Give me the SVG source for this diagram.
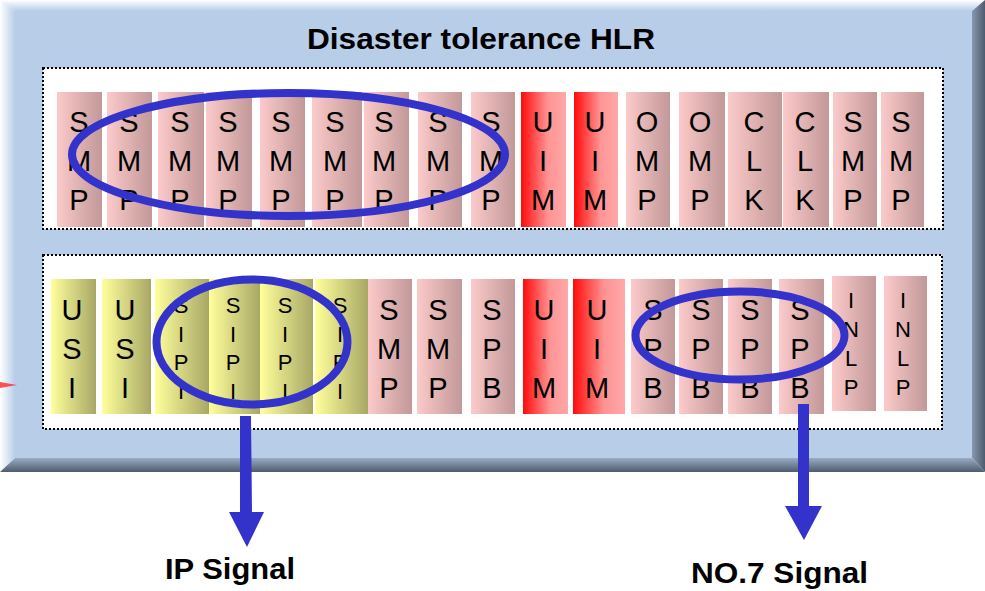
<svg xmlns="http://www.w3.org/2000/svg" width="985" height="591" viewBox="0 0 985 591">
<defs>
<linearGradient id="gPink" x1="0" y1="0" x2="1" y2="0"><stop offset="0" stop-color="#fccaca"/><stop offset="1" stop-color="#c29898"/></linearGradient>
<linearGradient id="gRed" x1="0" y1="0" x2="1" y2="0"><stop offset="0" stop-color="#ff0a0a"/><stop offset="0.6" stop-color="#ff9494"/><stop offset="1" stop-color="#ffa8a8"/></linearGradient>
<linearGradient id="gYel" x1="0" y1="0" x2="1" y2="0"><stop offset="0" stop-color="#ffff9c"/><stop offset="1" stop-color="#a8a866"/></linearGradient>
<linearGradient id="gLeft" x1="0" y1="0" x2="1" y2="0"><stop offset="0" stop-color="#ffffff"/><stop offset="1" stop-color="#b8cde8"/></linearGradient>
<linearGradient id="gTop" x1="0" y1="0" x2="0" y2="1"><stop offset="0" stop-color="#ffffff"/><stop offset="1" stop-color="#b8cde8"/></linearGradient>
<linearGradient id="gRight" x1="0" y1="0" x2="1" y2="0"><stop offset="0" stop-color="#8898ae"/><stop offset="1" stop-color="#4e5c70"/></linearGradient>
<linearGradient id="gBottom" x1="0" y1="0" x2="0" y2="1"><stop offset="0" stop-color="#9aabc2"/><stop offset="1" stop-color="#4e5c70"/></linearGradient>
<style>
.pink{fill:url(#gPink)}
.red{fill:url(#gRed)}
.yel{fill:url(#gYel)}
.big{font-family:"Liberation Sans",Arial,sans-serif;font-size:29px;fill:#000;text-anchor:middle}
.small{font-family:"Liberation Sans",Arial,sans-serif;font-size:22px;fill:#000;text-anchor:middle}
.title{font-family:"Liberation Sans",Arial,sans-serif;font-size:30px;font-weight:bold;fill:#000}
.lbl{font-family:"Liberation Sans",Arial,sans-serif;font-size:29px;font-weight:bold;fill:#000}
.dot{fill:#fff;stroke:#000;stroke-width:2;stroke-dasharray:2 2}
.ell{fill:none;stroke:#3333cc;stroke-width:8}
.arrow{fill:#3333cc}
</style>
</defs>

<g id="frame">
<rect x="15" y="11" width="957" height="447" fill="#b8cde8"/>
<polygon points="0,0 985,0 972,11 15,11" fill="url(#gTop)"/>
<polygon points="0,0 15,11 15,458 0,472" fill="url(#gLeft)"/>
<polygon points="985,0 985,472 972,458 972,11" fill="url(#gRight)"/>
<polygon points="0,472 15,458 972,458 985,472" fill="url(#gBottom)"/>
<text class="title" x="307" y="49" textLength="348" lengthAdjust="spacingAndGlyphs">Disaster tolerance HLR</text>
</g>

<polygon id="red-mark" points="0,382 17,385 0,388" fill="#ff3333" opacity="0.85"/>

<g id="upper-shelf">
<rect class="dot" x="43" y="68" width="900" height="161"/>
<g id="u1"><rect class="pink" x="57" y="92" width="45" height="135"/><text class="big" x="79" y="132"><tspan x="79">S</tspan><tspan x="79" dy="39">M</tspan><tspan x="79" dy="39">P</tspan></text></g>
<g id="u2"><rect class="pink" x="107" y="92" width="45" height="135"/><text class="big" x="129" y="132"><tspan x="129">S</tspan><tspan x="129" dy="39">M</tspan><tspan x="129" dy="39">P</tspan></text></g>
<g id="u3"><rect class="pink" x="158" y="92" width="46" height="135"/><text class="big" x="180" y="132"><tspan x="180">S</tspan><tspan x="180" dy="39">M</tspan><tspan x="180" dy="39">P</tspan></text></g>
<g id="u4"><rect class="pink" x="206" y="92" width="46" height="135"/><text class="big" x="228" y="132"><tspan x="228">S</tspan><tspan x="228" dy="39">M</tspan><tspan x="228" dy="39">P</tspan></text></g>
<g id="u5"><rect class="pink" x="260" y="92" width="45" height="135"/><text class="big" x="281" y="132"><tspan x="281">S</tspan><tspan x="281" dy="39">M</tspan><tspan x="281" dy="39">P</tspan></text></g>
<g id="u6"><rect class="pink" x="312" y="92" width="50" height="135"/><text class="big" x="335" y="132"><tspan x="335">S</tspan><tspan x="335" dy="39">M</tspan><tspan x="335" dy="39">P</tspan></text></g>
<g id="u7"><rect class="pink" x="364" y="92" width="45" height="135"/><text class="big" x="384" y="132"><tspan x="384">S</tspan><tspan x="384" dy="39">M</tspan><tspan x="384" dy="39">P</tspan></text></g>
<g id="u8"><rect class="pink" x="418" y="92" width="44" height="135"/><text class="big" x="438" y="132"><tspan x="438">S</tspan><tspan x="438" dy="39">M</tspan><tspan x="438" dy="39">P</tspan></text></g>
<g id="u9"><rect class="pink" x="471" y="92" width="44" height="135"/><text class="big" x="491" y="132"><tspan x="491">S</tspan><tspan x="491" dy="39">M</tspan><tspan x="491" dy="39">P</tspan></text></g>
<g id="u10"><rect class="red" x="521" y="92" width="45" height="135"/><text class="big" x="543" y="132"><tspan x="543">U</tspan><tspan x="543" dy="39">I</tspan><tspan x="543" dy="39">M</tspan></text></g>
<g id="u11"><rect class="red" x="574" y="92" width="44" height="135"/><text class="big" x="595" y="132"><tspan x="595">U</tspan><tspan x="595" dy="39">I</tspan><tspan x="595" dy="39">M</tspan></text></g>
<g id="u12"><rect class="pink" x="626" y="92" width="44" height="135"/><text class="big" x="647" y="132"><tspan x="647">O</tspan><tspan x="647" dy="39">M</tspan><tspan x="647" dy="39">P</tspan></text></g>
<g id="u13"><rect class="pink" x="679" y="92" width="46" height="135"/><text class="big" x="700" y="132"><tspan x="700">O</tspan><tspan x="700" dy="39">M</tspan><tspan x="700" dy="39">P</tspan></text></g>
<g id="u14"><rect class="pink" x="728" y="92" width="54" height="135"/><text class="big" x="754" y="132"><tspan x="754">C</tspan><tspan x="754" dy="39">L</tspan><tspan x="754" dy="39">K</tspan></text></g>
<g id="u15"><rect class="pink" x="783" y="92" width="46" height="135"/><text class="big" x="805" y="132"><tspan x="805">C</tspan><tspan x="805" dy="39">L</tspan><tspan x="805" dy="39">K</tspan></text></g>
<g id="u16"><rect class="pink" x="833" y="92" width="44" height="135"/><text class="big" x="853" y="132"><tspan x="853">S</tspan><tspan x="853" dy="39">M</tspan><tspan x="853" dy="39">P</tspan></text></g>
<g id="u17"><rect class="pink" x="881" y="92" width="43" height="135"/><text class="big" x="901" y="132"><tspan x="901">S</tspan><tspan x="901" dy="39">M</tspan><tspan x="901" dy="39">P</tspan></text></g>
</g>

<g id="lower-shelf">
<rect class="dot" x="43" y="255" width="899" height="174"/>
<g id="l1"><rect class="yel" x="51" y="279" width="45" height="135"/><text class="big" x="72" y="320"><tspan x="72">U</tspan><tspan x="72" dy="39">S</tspan><tspan x="72" dy="39">I</tspan></text></g>
<g id="l2"><rect class="yel" x="102" y="279" width="49" height="135"/><text class="big" x="125" y="320"><tspan x="125">U</tspan><tspan x="125" dy="39">S</tspan><tspan x="125" dy="39">I</tspan></text></g>
<g id="l3"><rect class="yel" x="155" y="279" width="54" height="135"/><text class="small" x="181" y="313"><tspan x="181">S</tspan><tspan x="181" dy="28.5">I</tspan><tspan x="181" dy="28.5">P</tspan><tspan x="181" dy="28.5">I</tspan></text></g>
<g id="l4"><rect class="yel" x="209" y="279" width="51" height="135"/><text class="small" x="233" y="313"><tspan x="233">S</tspan><tspan x="233" dy="28.5">I</tspan><tspan x="233" dy="28.5">P</tspan><tspan x="233" dy="28.5">I</tspan></text></g>
<g id="l5"><rect class="yel" x="260" y="279" width="53" height="135"/><text class="small" x="285" y="313"><tspan x="285">S</tspan><tspan x="285" dy="28.5">I</tspan><tspan x="285" dy="28.5">P</tspan><tspan x="285" dy="28.5">I</tspan></text></g>
<g id="l6"><rect class="yel" x="315" y="279" width="53" height="135"/><text class="small" x="340" y="313"><tspan x="340">S</tspan><tspan x="340" dy="28.5">I</tspan><tspan x="340" dy="28.5">P</tspan><tspan x="340" dy="28.5">I</tspan></text></g>
<g id="l7"><rect class="pink" x="368" y="279" width="44" height="135"/><text class="big" x="389" y="320"><tspan x="389">S</tspan><tspan x="389" dy="39">M</tspan><tspan x="389" dy="39">P</tspan></text></g>
<g id="l8"><rect class="pink" x="417" y="279" width="45" height="135"/><text class="big" x="438" y="320"><tspan x="438">S</tspan><tspan x="438" dy="39">M</tspan><tspan x="438" dy="39">P</tspan></text></g>
<g id="l9"><rect class="pink" x="471" y="279" width="44" height="135"/><text class="big" x="492" y="320"><tspan x="492">S</tspan><tspan x="492" dy="39">P</tspan><tspan x="492" dy="39">B</tspan></text></g>
<g id="l10"><rect class="red" x="523" y="279" width="45" height="135"/><text class="big" x="544" y="320"><tspan x="544">U</tspan><tspan x="544" dy="39">I</tspan><tspan x="544" dy="39">M</tspan></text></g>
<g id="l11"><rect class="red" x="573" y="279" width="52" height="135"/><text class="big" x="597" y="320"><tspan x="597">U</tspan><tspan x="597" dy="39">I</tspan><tspan x="597" dy="39">M</tspan></text></g>
<g id="l12"><rect class="pink" x="631" y="279" width="44" height="135"/><text class="big" x="653" y="320"><tspan x="653">S</tspan><tspan x="653" dy="39">P</tspan><tspan x="653" dy="39">B</tspan></text></g>
<g id="l13"><rect class="pink" x="679" y="279" width="44" height="135"/><text class="big" x="701" y="320"><tspan x="701">S</tspan><tspan x="701" dy="39">P</tspan><tspan x="701" dy="39">B</tspan></text></g>
<g id="l14"><rect class="pink" x="728" y="279" width="44" height="135"/><text class="big" x="750" y="320"><tspan x="750">S</tspan><tspan x="750" dy="39">P</tspan><tspan x="750" dy="39">B</tspan></text></g>
<g id="l15"><rect class="pink" x="779" y="279" width="45" height="135"/><text class="big" x="800" y="320"><tspan x="800">S</tspan><tspan x="800" dy="39">P</tspan><tspan x="800" dy="39">B</tspan></text></g>
<g id="l16"><rect class="pink" x="832" y="276" width="44" height="135"/><text class="small" x="851" y="308"><tspan x="851">I</tspan><tspan x="851" dy="29">N</tspan><tspan x="851" dy="29">L</tspan><tspan x="851" dy="29">P</tspan></text></g>
<g id="l17"><rect class="pink" x="884" y="276" width="43" height="135"/><text class="small" x="903" y="308"><tspan x="903">I</tspan><tspan x="903" dy="29">N</tspan><tspan x="903" dy="29">L</tspan><tspan x="903" dy="29">P</tspan></text></g>
</g>

<g id="highlights">
<ellipse class="ell" cx="288.5" cy="154.5" rx="216.5" ry="61.5"/>
<ellipse class="ell" cx="252" cy="342" rx="95.5" ry="62.5"/>
<ellipse class="ell" cx="740" cy="335.5" rx="104.5" ry="44"/>
</g>

<g id="connectors">
<polygon class="arrow" points="240,416 251,416 252,512 264,512 247,547 229,512 240,512"/>
<polygon class="arrow" points="798,404 809,404 809,506 822,506 804,540 785,506 798,506"/>
</g>

<g id="labels">
<text class="lbl" x="165" y="579" textLength="130" lengthAdjust="spacingAndGlyphs">IP Signal</text>
<text class="lbl" x="691" y="583" textLength="177" lengthAdjust="spacingAndGlyphs">NO.7 Signal</text>
</g>
</svg>
